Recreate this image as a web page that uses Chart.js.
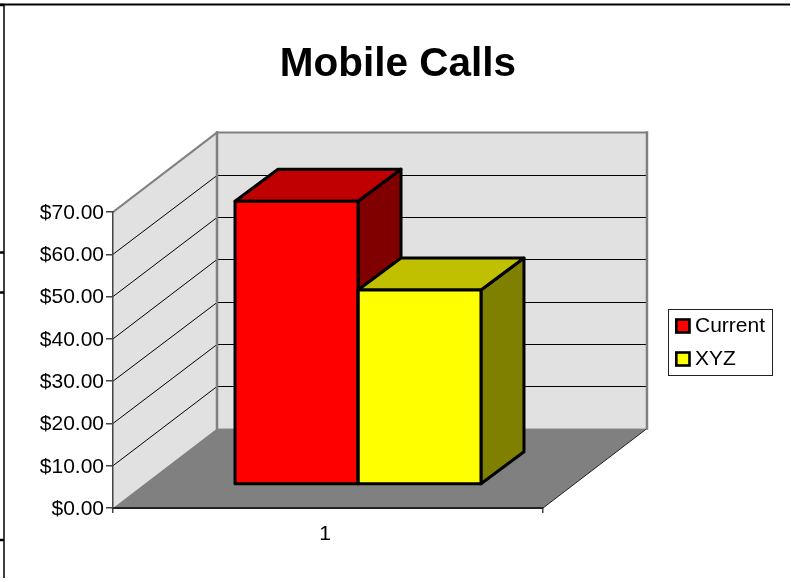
<!DOCTYPE html>
<html><head><meta charset="utf-8">
<style>html,body{margin:0;padding:0;background:#fff}canvas{display:block}</style>
<script src="https://cdn.jsdelivr.net/npm/chart.js@4"></script></head>
<body><canvas id="c" width="791" height="582"></canvas>
<script>
const categories = ["1"];
const currentValues = [67];
const xyzValues = [46];
const seriesNames = ["Current", "XYZ"];
const chartTitle = "Mobile Calls";
const yMin = 0, yMax = 70, yStep = 10;

const FONT = '"Liberation Sans", Arial, sans-serif';
const WALL = {dx:104, dy:-79.5};
const BAR_SHIFT = {dx:30, dy:-23.5};
const BAR_DEPTH = {dx:43, dy:-32};
const SHADES = [{top:'#c00000',side:'#800000'},{top:'#c0c000',side:'#808000'}];

function poly(ctx, pts, fill, stroke, lw){
  ctx.beginPath();
  pts.forEach((p,i)=> i?ctx.lineTo(p[0],p[1]):ctx.moveTo(p[0],p[1]));
  ctx.closePath();
  if(fill){ctx.fillStyle=fill;ctx.fill();}
  if(stroke){ctx.strokeStyle=stroke;ctx.lineWidth=lw;ctx.lineJoin='round';ctx.stroke();}
}
function seg(ctx,x1,y1,x2,y2,color,lw){
  ctx.beginPath();ctx.moveTo(x1,y1);ctx.lineTo(x2,y2);ctx.strokeStyle=color;ctx.lineWidth=lw;ctx.stroke();
}
function barBox(chart,i){
  const b=chart.getDatasetMeta(i).data[0];
  const w=b.width;
  return {l:b.x-w/2+BAR_SHIFT.dx, r:b.x+w/2+BAR_SHIFT.dx, t:b.y+BAR_SHIFT.dy, b:b.base+BAR_SHIFT.dy};
}
const scene = {
  id:'scene',
  afterLayout(chart){
    chart.titleBlock.left=0;
    chart.titleBlock.right=796;
  },
  beforeDraw(chart){
    const ctx=chart.ctx, a=chart.chartArea, y=chart.scales.y;
    const {dx,dy}=WALL;
    ctx.save();
    ctx.fillStyle='#fff';ctx.fillRect(0,0,chart.width,chart.height);
    // sheet frame
    seg(ctx,0,4.5,790,4.5,'#000',2);
    seg(ctx,4,4,4,578,'#000',1.5);
    [5,252.5,292.5,540].forEach(v=>seg(ctx,0,v,4,v,'#000',2.5));
    // walls and floor
    const L=a.left,R=a.right,T=a.top,B=a.bottom;
    poly(ctx,[[L+dx,T+dy],[R+dx,T+dy],[R+dx,B+dy],[L+dx,B+dy]],'#e1e1e1');
    poly(ctx,[[L,T],[L+dx,T+dy],[L+dx,B+dy],[L,B]],'#e1e1e1');
    y.ticks.forEach(t=>{
      if(t.value===yMin||t.value===yMax) return;
      const p=y.getPixelForValue(t.value);
      const back=Math.round(p+dy)+0.5;
      seg(ctx,L,p,L+dx,back,'#000',1);
      seg(ctx,L+dx,back,R+dx,back,'#000',1);
    });
    poly(ctx,[[L,B],[R,B],[R+dx,B+dy],[L+dx,B+dy]],'#808080');
    seg(ctx,R,B,R+dx,B+dy,'#222',1);
    ctx.lineCap='square';
    seg(ctx,L,T,L+dx,T+dy,'#808080',2);
    seg(ctx,L+dx,T+dy,R+dx,T+dy,'#808080',2);
    seg(ctx,L+dx,T+dy,L+dx,B+dy,'#808080',2.5);
    seg(ctx,R+dx,T+dy,R+dx,B+dy,'#808080',2.5);
    ctx.restore();
  },
  beforeDatasetsDraw(chart){
    const ctx=chart.ctx, {dx,dy}=BAR_DEPTH;
    ctx.save();
    chart.data.datasets.forEach((d,i)=>{
      const q=barBox(chart,i);
      poly(ctx,[[q.r,q.t],[q.r+dx,q.t+dy],[q.r+dx,q.b+dy],[q.r,q.b]],SHADES[i].side,'#000',3);
      poly(ctx,[[q.l,q.t],[q.l+dx,q.t+dy],[q.r+dx,q.t+dy],[q.r,q.t]],SHADES[i].top,'#000',3);
    });
    ctx.restore();
    ctx.save();
    ctx.translate(BAR_SHIFT.dx,BAR_SHIFT.dy);
  },
  afterDatasetsDraw(chart){
    const ctx=chart.ctx;
    ctx.restore();
    ctx.save();
    chart.data.datasets.forEach((d,i)=>{
      const q=barBox(chart,i);
      poly(ctx,[[q.l,q.t],[q.r,q.t],[q.r,q.b],[q.l,q.b]],null,'#000',3);
    });
    ctx.restore();
  },
  afterDraw(chart){
    const ctx=chart.ctx;
    ctx.save();
    ctx.fillStyle='#fff';ctx.fillRect(668.5,309.5,104,66);
    ctx.strokeStyle='#222';ctx.lineWidth=1;ctx.strokeRect(668.5,309.5,104,66);
    ctx.font='21px '+FONT;ctx.textBaseline='middle';ctx.textAlign='left';
    chart.data.datasets.forEach((d,i)=>{
      const yy=319.5+33*i;
      ctx.fillStyle=d.backgroundColor;ctx.fillRect(676.3,yy,13.2,13);
      ctx.strokeStyle='#000';ctx.lineWidth=2.6;ctx.strokeRect(676.3,yy,13.2,13);
      ctx.fillStyle='#000';ctx.fillText(d.label,695,yy+7);
    });
    ctx.restore();
  }
};
new Chart(document.getElementById('c'),{
  type:'bar',
  data:{labels:categories,datasets:[
    {label:seriesNames[0],data:currentValues,backgroundColor:'#ff0000',borderWidth:0},
    {label:seriesNames[1],data:xyzValues,backgroundColor:'#ffff00',borderWidth:0}
  ]},
  options:{
    responsive:false,animation:false,
    categoryPercentage:0.572,barPercentage:1,
    layout:{padding:{left:5,right:248,top:0,bottom:34}},
    plugins:{
      legend:{display:false},tooltip:{enabled:false},
      title:{display:true,text:chartTitle,color:'#000',
        font:{family:FONT,size:40.5,weight:'bold',lineHeight:1.2},
        padding:{top:41,bottom:122.4}}
    },
    scales:{
      x:{offset:true,
        afterFit(s){s.height=40;},
        grid:{offset:true,drawOnChartArea:false,drawTicks:true,tickLength:5,color:'#444',lineWidth:1.5},
        border:{display:true,color:'#222',width:2},
        ticks:{color:'#000',padding:9,labelOffset:-3,font:{family:FONT,size:21},maxRotation:0}},
      y:{min:yMin,max:yMax,
        afterFit(s){s.width=108;},
        grid:{drawOnChartArea:false,drawTicks:true,tickLength:7,color:'#444',lineWidth:1.5},
        border:{display:true,color:'#444',width:1.5},
        ticks:{stepSize:yStep,color:'#000',padding:2,labelOffset:1,font:{family:FONT,size:21},
          callback:v=>'$'+Number(v).toFixed(2)}}
    }
  },
  plugins:[scene]
});
</script></body></html>
